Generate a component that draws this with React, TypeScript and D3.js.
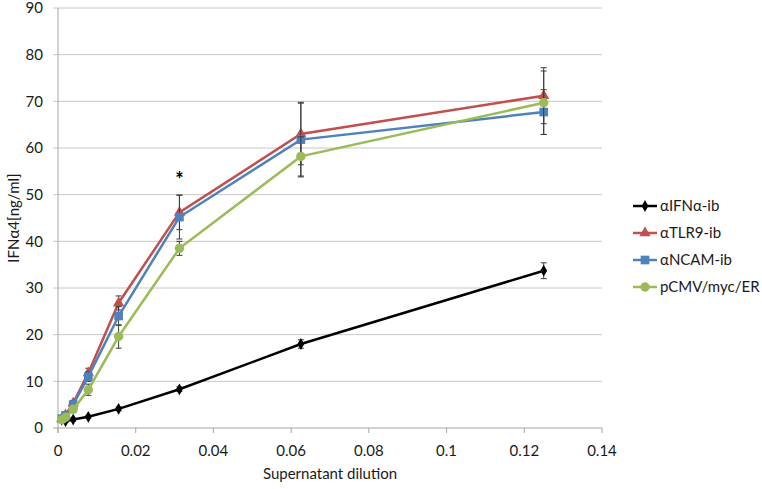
import React from "react";
import * as d3 from "d3";

const dilutions = [0.000977, 0.00195, 0.0039, 0.0078, 0.0156, 0.03125, 0.0625, 0.125];

const seriesNames = ["αIFNα-ib", "αTLR9-ib", "αNCAM-ib", "pCMV/myc/ER"];
const ifnValues = [1.8, 1.5, 1.8, 2.4, 4.1, 8.3, 18.0, 33.7];
const ifnErrors = [0.3, 0.3, 0.3, 0.3, 0.4, 0.5, 0.9, 1.7];
const tlrValues = [2.0, 2.8, 5.3, 11.8, 26.8, 46.2, 63.0, 71.2];
const tlrErrors = [0.3, 0.4, 0.6, 1.0, 1.5, 3.7, 6.6, 6.0];
const ncamValues = [2.0, 2.7, 5.0, 11.0, 24.0, 45.2, 61.8, 67.7];
const ncamErrors = [0.3, 0.4, 0.6, 1.0, 2.0, 4.7, 8.0, 4.8];
const cmvValues = [1.8, 2.3, 4.0, 8.2, 19.6, 38.5, 58.2, 69.7];
const cmvErrors = [0.3, 0.4, 0.6, 1.2, 2.5, 1.5, 4.2, 6.8];

const xTicks = [0, 0.02, 0.04, 0.06, 0.08, 0.1, 0.12, 0.14];
const yTicks = [0, 10, 20, 30, 40, 50, 60, 70, 80, 90];

const colors = ["#000000", "#C0504D", "#4F81BD", "#9BBB59"];
const markers = ["diamond", "triangle", "square", "circle"];

const W = 762;
const H = 489;
const margin = { left: 58, right: 160, top: 8, bottom: 61 };
const font = "Lato, 'Open Sans', sans-serif";

const x = d3.scaleLinear().domain([0, 0.14]).range([margin.left, 602]);
const y = d3.scaleLinear().domain([0, 90]).range([428, 8]);

const symbolFor = (m: string) => {
  if (m === "diamond") return d3.symbol(d3.symbolDiamond, 40)();
  if (m === "triangle") return d3.symbol(d3.symbolTriangle, 55)();
  if (m === "square") return d3.symbol(d3.symbolSquare, 75)();
  return d3.symbol(d3.symbolCircle, 70)();
};

const allValues = [ifnValues, tlrValues, ncamValues, cmvValues];
const allErrors = [ifnErrors, tlrErrors, ncamErrors, cmvErrors];

const App = () => {
  const line = d3
    .line<number>()
    .x((_, i) => x(dilutions[i]))
    .y((d) => y(d));

  return (
    <svg width={W} height={H} style={{ position: "absolute", left: 0, top: 0 }}>
      <rect width={W} height={H} fill="#fff" />
      {yTicks.map((t) => (
        <g key={"y" + t}>
          <line
            x1={x(0) - 5}
            x2={x(0.14)}
            y1={y(t)}
            y2={y(t)}
            stroke={t === 0 ? "#a6a6a6" : "#c8c8c8"}
            strokeWidth={1}
          />
          <text
            x={x(0) - 15}
            y={y(t)}
            dy="0.35em"
            textAnchor="end"
            fontFamily={font}
            fontSize={15}
            fill="#1a1a1a"
          >
            {t}
          </text>
        </g>
      ))}
      <line x1={x(0)} x2={x(0)} y1={y(90)} y2={y(0) + 5} stroke="#a6a6a6" />
      {xTicks.map((t) => (
        <g key={"x" + t}>
          <line x1={x(t)} x2={x(t)} y1={y(0)} y2={y(0) + 5} stroke="#a6a6a6" />
          <text
            x={x(t)}
            y={y(0) + 23}
            dy="0.35em"
            textAnchor="middle"
            fontFamily={font}
            fontSize={15}
            fill="#1a1a1a"
          >
            {t}
          </text>
        </g>
      ))}
      <text
        x={330}
        y={474}
        dy="0.35em"
        textAnchor="middle"
        fontFamily={font}
        fontSize={15}
        fill="#1a1a1a"
      >
        Supernatant dilution
      </text>
      <text
        transform={`translate(14,${(y(0) + y(90)) / 2}) rotate(-90)`}
        dy="0.35em"
        textAnchor="middle"
        fontFamily={font}
        fontSize={15}
        fill="#1a1a1a"
      >
        IFNα4[ng/ml]
      </text>

      {allValues.map((vals, s) => (
        <g key={"s" + s}>
          {vals.map((v, i) => {
            const e = allErrors[s][i];
            const cx = x(dilutions[i]);
            return (
              <g key={i} stroke="#3a3a3a" strokeWidth={1}>
                <line x1={cx} x2={cx} y1={y(v - e)} y2={y(v + e)} />
                <line x1={cx - 3} x2={cx + 3} y1={y(v - e)} y2={y(v - e)} />
                <line x1={cx - 3} x2={cx + 3} y1={y(v + e)} y2={y(v + e)} />
              </g>
            );
          })}
          <path d={line(vals) || ""} fill="none" stroke={colors[s]} strokeWidth={2.5} />
          {vals.map((v, i) => (
            <path
              key={"m" + i}
              d={symbolFor(markers[s])}
              transform={`translate(${x(dilutions[i])},${y(v)})`}
              fill={colors[s]}
            />
          ))}
        </g>
      ))}

      <text
        x={x(0.03125)}
        y={y(49.5) - 10}
        textAnchor="middle"
        fontFamily={font}
        fontSize={20}
        fontWeight="bold"
        fill="#000"
      >
        *
      </text>

      {seriesNames.map((name, i) => {
        const ly = 206 + i * 27;
        return (
          <g key={"l" + i}>
            <line x1={633} x2={657} y1={ly} y2={ly} stroke={colors[i]} strokeWidth={2.5} />
            <path
              d={symbolFor(markers[i])}
              transform={`translate(645,${ly})`}
              fill={colors[i]}
            />
            <text
              x={660}
              y={ly}
              dy="0.35em"
              fontFamily={font}
              fontSize={15}
              fill="#1a1a1a"
            >
              {name}
            </text>
          </g>
        );
      })}
    </svg>
  );
};

export default App;
